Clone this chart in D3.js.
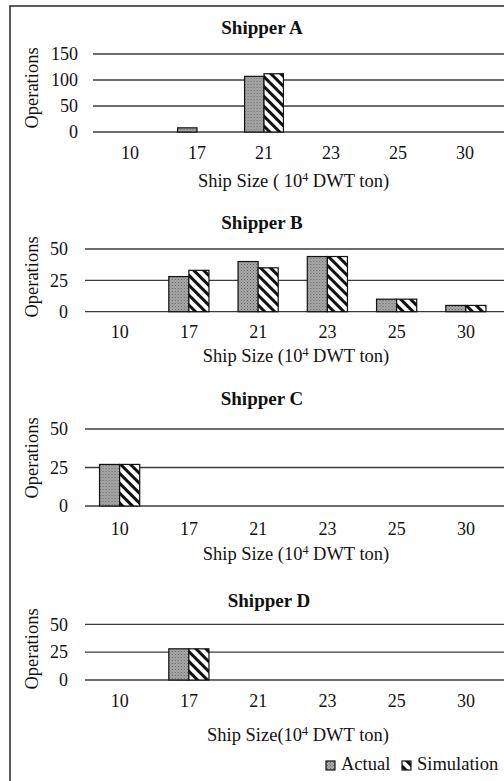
<!DOCTYPE html>
<html>
<head>
<meta charset="utf-8">
<script src="https://cdn.jsdelivr.net/npm/d3@7"></script>
<style>
  html, body { margin: 0; padding: 0; background: #fff; }
  svg { display: block; }
  text { font-family: "Liberation Serif", "Times New Roman", serif; fill: #111; }
</style>
</head>
<body>
<script>
// ---- data ----
const categories = ["10", "17", "21", "23", "25", "30"];
const shippers = ["Shipper A", "Shipper B", "Shipper C", "Shipper D"];
const seriesNames = ["Actual", "Simulation"];
const actualA = [0, 8, 107, 0, 0, 0];
const simA    = [0, 0, 112, 0, 0, 0];
const actualB = [0, 28, 40, 44, 10, 5];
const simB    = [0, 33, 35, 44, 10, 5];
const actualC = [27, 0, 0, 0, 0, 0];
const simC    = [27, 0, 0, 0, 0, 0];
const actualD = [0, 28, 0, 0, 0, 0];
const simD    = [0, 28, 0, 0, 0, 0];
const yTicksA = [0, 50, 100, 150];
const yTicksBCD = [0, 25, 50];
const xTitles = ["Ship Size ( 10", "Ship Size (10", "Ship Size (10", "Ship Size(10"];

// ---- layout (positions only) ----
const W = 504, H = 781;
const FS_TICK = 18, FS_LAB = 18.5, FS_TITLE = 19;
const panels = [
  { actual: actualA, sim: simA, ticks: yTicksA, yMax: 150, top: 54, bottom: 132,
    gridLeft: 93, band: [96.5, 498.5], ylabX: 78, titleY: 33.5, titleX: 262,
    tickBase: 159, xTitleY: 187, xTitleX: 293.5, opY: 88 },
  { actual: actualB, sim: simB, ticks: yTicksBCD, yMax: 50, top: 249, bottom: 311.7,
    gridLeft: 85, band: [85, 500.5], ylabX: 68, titleY: 229, titleX: 262,
    tickBase: 338, xTitleY: 362, xTitleX: 296, opY: 277 },
  { actual: actualC, sim: simC, ticks: yTicksBCD, yMax: 50, top: 429, bottom: 506,
    gridLeft: 85, band: [85, 500.5], ylabX: 68, titleY: 404.5, titleX: 262,
    tickBase: 535, xTitleY: 560, xTitleX: 296, opY: 458 },
  { actual: actualD, sim: simD, ticks: yTicksBCD, yMax: 50, top: 624.3, bottom: 680,
    gridLeft: 85, band: [85, 500.5], ylabX: 68, titleY: 607, titleX: 269,
    tickBase: 707, xTitleY: 741, xTitleX: 298, opY: 649 }
];

const svg = d3.select("body").append("svg").attr("width", W).attr("height", H);

// patterns
const defs = svg.append("defs");
const dots = defs.append("pattern").attr("id", "pActual")
  .attr("patternUnits", "userSpaceOnUse").attr("width", 3).attr("height", 3);
dots.append("rect").attr("width", 3).attr("height", 3).attr("fill", "#ababab");
dots.append("rect").attr("x", 0).attr("y", 0).attr("width", 1).attr("height", 1).attr("fill", "#5e5e5e");
dots.append("rect").attr("x", 1.5).attr("y", 1.5).attr("width", 1).attr("height", 1).attr("fill", "#707070");

const stripes = defs.append("pattern").attr("id", "pSim")
  .attr("patternUnits", "userSpaceOnUse").attr("width", 7).attr("height", 7)
  .attr("patternTransform", "rotate(-45)");
stripes.append("rect").attr("width", 7).attr("height", 7).attr("fill", "#fff");
stripes.append("rect").attr("x", 0).attr("width", 3).attr("height", 7).attr("fill", "#111");

const fills = ["url(#pActual)", "url(#pSim)"];

// outer border
svg.append("rect").attr("x", 10).attr("y", 6).attr("width", W + 10).attr("height", H + 10)
  .attr("fill", "none").attr("stroke", "#333").attr("stroke-width", 1.6);

panels.forEach((p, i) => {
  const g = svg.append("g");
  const x = d3.scaleBand().domain(categories).range(p.band).paddingInner(0.42).paddingOuter(0.21);
  const xs = d3.scaleBand().domain(seriesNames).range([0, x.bandwidth()]);
  const y = d3.scaleLinear().domain([0, p.yMax]).range([p.bottom, p.top]);

  // gridlines
  g.selectAll("line.grid").data(p.ticks).join("line")
    .attr("x1", p.gridLeft).attr("x2", W)
    .attr("y1", d => y(d)).attr("y2", d => y(d))
    .attr("stroke", "#3c3c3c").attr("stroke-width", 1.3);

  // y axis labels
  const ya = g.append("g").attr("transform", `translate(${p.ylabX},0)`)
    .call(d3.axisLeft(y).tickValues(p.ticks).tickSize(0).tickPadding(0));
  ya.select(".domain").remove();
  ya.selectAll("text").attr("font-size", FS_TICK).attr("fill", "#111");

  // bars
  const rows = categories.map((c, k) => ({ c, vals: [p.actual[k], p.sim[k]] }));
  const grp = g.selectAll("g.cat").data(rows).join("g")
    .attr("transform", d => `translate(${x(d.c)},0)`);
  grp.selectAll("rect").data(d => d.vals.map((v, s) => ({ v, s })).filter(e => e.v > 0)).join("rect")
    .attr("x", e => xs(seriesNames[e.s]))
    .attr("y", e => y(e.v))
    .attr("width", xs.bandwidth())
    .attr("height", e => y(0) - y(e.v))
    .attr("fill", e => fills[e.s])
    .attr("stroke", "#111").attr("stroke-width", 1.2);

  // x axis labels
  const xa = g.append("g").attr("transform", `translate(0,${p.bottom})`)
    .call(d3.axisBottom(x).tickSize(0));
  xa.select(".domain").remove();
  xa.selectAll("text").attr("y", p.tickBase - p.bottom).attr("dy", 0)
    .attr("font-size", FS_TICK).attr("fill", "#111");

  // title
  g.append("text").attr("x", p.titleX).attr("y", p.titleY).attr("text-anchor", "middle")
    .attr("font-size", FS_TITLE).attr("font-weight", "bold").text(shippers[i]);

  // x axis title
  const xt = g.append("text").attr("x", p.xTitleX).attr("y", p.xTitleY).attr("text-anchor", "middle")
    .attr("font-size", FS_LAB);
  xt.append("tspan").text(xTitles[i]);
  xt.append("tspan").attr("font-size", 12).attr("dy", -6.5).text("4");
  xt.append("tspan").attr("dy", 6.5).text(" DWT ton)");

  // y axis title
  g.append("text").attr("transform", `translate(38,${p.opY}) rotate(-90)`)
    .attr("text-anchor", "middle").attr("font-size", FS_LAB).text("Operations");
});

// legend
const leg = svg.append("g");
const legItems = [{ name: "Actual", x: 326 }, { name: "Simulation", x: 402 }];
legItems.forEach((d, s) => {
  leg.append("rect").attr("x", d.x).attr("y", 761).attr("width", 9).attr("height", 9)
    .attr("fill", fills[s]).attr("stroke", "#111").attr("stroke-width", 1.2);
  leg.append("text").attr("x", d.x + 15).attr("y", 770).attr("font-size", FS_LAB).text(d.name);
});
</script>
</body>
</html>
